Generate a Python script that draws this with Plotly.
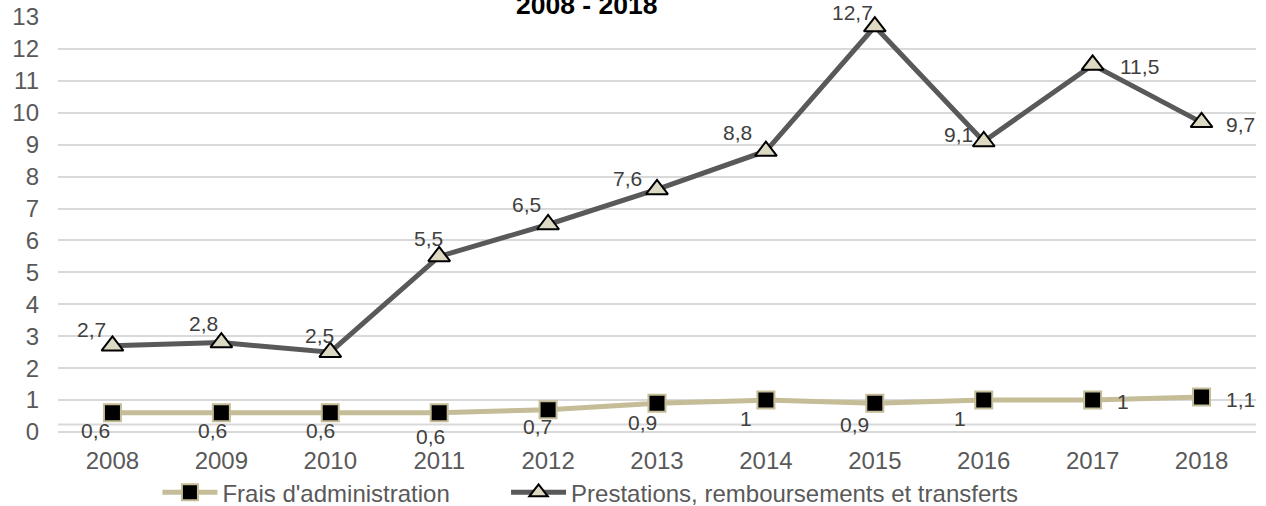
import plotly.graph_objects as go

years = ["2008", "2009", "2010", "2011", "2012", "2013", "2014", "2015", "2016", "2017", "2018"]
frais = [0.6, 0.6, 0.6, 0.6, 0.7, 0.9, 1, 0.9, 1, 1, 1.1]
prestations = [2.7, 2.8, 2.5, 5.5, 6.5, 7.6, 8.8, 12.7, 9.1, 11.5, 9.7]
y_ticks = list(range(0, 14))

name_frais = "Frais d'administration"
name_prest = "Prestations, remboursements et transferts"
title_text = "2008 - 2018"

# label offsets in pixels (dx, dy downwards) - styling only
prest_off = [(-21, -16), (-18, -19), (-11, -17), (-11, -17.5), (-21.5, -20), (-30, -11),
             (-28, -19), (-22, -14.5), (-25, -7), (46.5, 2), (39, 2)]
frais_off = [(-16.5, 17.5), (-9, 17.5), (-9.5, 17.5), (-8.5, 23.5), (-11, 17), (-14.5, 19),
             (-20, 18), (-20, 21.7), (-23.5, 18), (30, 1.5), (39, 2.6)]

FONT = "Liberation Sans, Arial, sans-serif"
TICK = dict(family=FONT, size=24, color="#595959")
LAB = dict(family=FONT, size=21, color="#404040")

def fmt(v):
    return ("%g" % v).replace(".", ",")

fig = go.Figure()
fig.add_trace(go.Scatter(
    x=years, y=frais, name=name_frais, mode="lines+markers", legend="legend",
    line=dict(color="#C4BD97", width=5),
    marker=dict(symbol="square", size=17, color="#000000", line=dict(color="#C4BD97", width=2)),
    cliponaxis=False,
))
fig.add_trace(go.Scatter(
    x=years, y=prestations, name=name_prest, mode="lines+markers", legend="legend2",
    line=dict(color="#595959", width=5),
    marker=dict(symbol="triangle-up", size=19, color="#DDD9C3", line=dict(color="#000000", width=2)),
    cliponaxis=False,
))

annotations = []
for i, (v, (dx, dy)) in enumerate(zip(prestations, prest_off)):
    annotations.append(dict(x=i, y=v, xref="x", yref="y", text=fmt(v), showarrow=False,
                            xshift=dx, yshift=-dy, font=LAB))
for i, (v, (dx, dy)) in enumerate(zip(frais, frais_off)):
    annotations.append(dict(x=i, y=v, xref="x", yref="y", text=fmt(v), showarrow=False,
                            xshift=dx, yshift=-dy, font=LAB))
annotations.append(dict(x=0.4408, y=1.029, xref="paper", yref="paper", text="<b>" + title_text + "</b>",
                        showarrow=False, xanchor="center", yanchor="middle",
                        font=dict(family=FONT, size=26.5, color="#000000")))

legend_common = dict(orientation="h", yanchor="top", xanchor="left", y=-0.092,
                     font=TICK, itemwidth=55, bgcolor="rgba(0,0,0,0)")

fig.update_layout(
    width=1266, height=506,
    margin=dict(l=57.5, r=9.5, t=17.3, b=74, autoexpand=False),
    paper_bgcolor="white", plot_bgcolor="white",
    font=dict(family=FONT, size=24, color="#595959"),
    showlegend=True,
    legend=dict(x=0.083, **legend_common),
    legend2=dict(x=0.374, **legend_common),
    annotations=annotations,
    shapes=[dict(type="line", xref="paper", yref="y", x0=0, x1=1, y0=0.235, y1=0.235,
                 line=dict(color="#D9D9D9", width=2), layer="below")],
)
fig.update_xaxes(type="category", range=[-0.5, 10.5], showgrid=False, zeroline=False,
                 showline=False, ticks="", ticklabelstandoff=12, tickfont=TICK)
fig.update_yaxes(range=[0, 13], tickvals=y_ticks, showgrid=True, gridcolor="#D9D9D9", gridwidth=1.5,
                 zeroline=True, zerolinecolor="#D9D9D9", zerolinewidth=1.5, showline=False,
                 ticks="", ticklabelstandoff=18, tickfont=TICK)

fig.write_html("out.html")
